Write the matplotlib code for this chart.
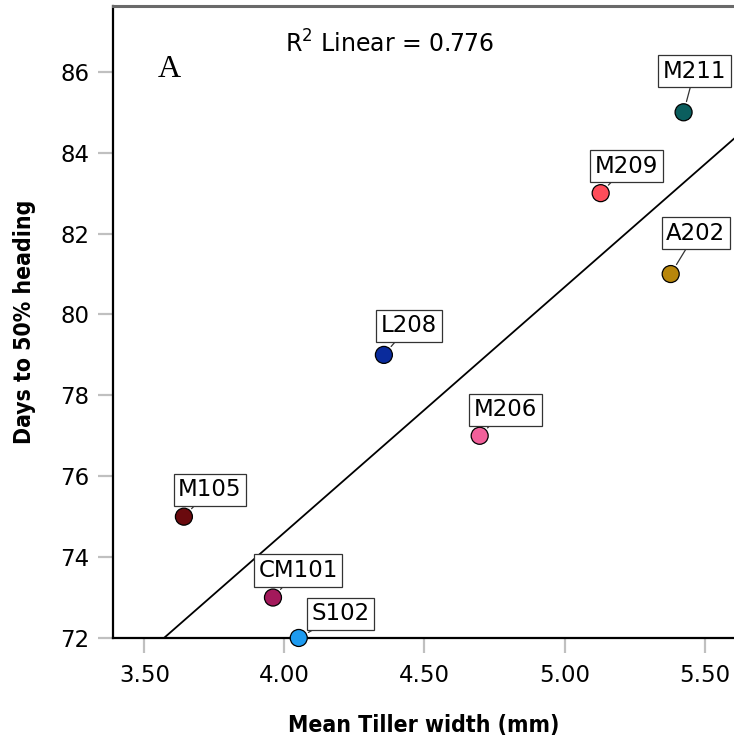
import numpy as np
import matplotlib
matplotlib.use("Agg")
import matplotlib.pyplot as plt

# Cultivar data: mean tiller width (mm) vs days to 50% heading
cultivars = ["M211", "M209", "A202", "L208", "M206", "M105", "CM101", "S102"]
tiller_width = [5.425, 5.129, 5.379, 4.355, 4.697, 3.641, 3.959, 4.051]
days_heading = [85, 83, 81, 79, 77, 75, 73, 72]
point_colors = ["#0b5e5e", "#ff4d5a", "#b8860b", "#0a2b9c",
                "#f2609a", "#6a0a0e", "#a3195b", "#1e9bf0"]
r_squared = 0.776

x_ticks = [3.50, 4.00, 4.50, 5.00, 5.50]
y_ticks = [72, 74, 76, 78, 80, 82, 84, 86]

# label box offsets (pixels) from each point
label_offsets = [(11, 41), (26, 27), (25, 41), (25, 29),
                 (26, 26), (26, 27), (25, 27), (42, 24)]

fig = plt.figure(figsize=(7.34, 7.42), dpi=100)
ax = fig.add_axes([0.154, 0.1402, 0.846, 0.8518])

ax.set_xlim(3.388, 5.605)
ax.set_ylim(72, 87.63)

# fitted linear trend
slope, intercept = np.polyfit(tiller_width, days_heading, 1)
xs = np.array(ax.get_xlim())
ax.plot(xs, slope * xs + intercept, color="black", lw=1.3, zorder=2)

ax.scatter(tiller_width, days_heading, s=150, c=point_colors,
           edgecolors="black", linewidths=0.9, zorder=4, clip_on=False)

for name, x, y, (dx, dy) in zip(cultivars, tiller_width, days_heading, label_offsets):
    ax.annotate(name, xy=(x, y), xytext=(dx, dy), textcoords="offset pixels",
                ha="center", va="center", fontsize=16.5, family="DejaVu Sans",
                bbox=dict(boxstyle="square,pad=0.2", fc="white", ec="#333333", lw=0.9),
                arrowprops=dict(arrowstyle="-", color="#333333", lw=0.9,
                                shrinkA=0, shrinkB=8),
                zorder=5, annotation_clip=False)

ax.text(0.446, 0.94, r"R$^2$ Linear = %.3f" % r_squared, transform=ax.transAxes,
        ha="center", va="center", fontsize=17, family="DejaVu Sans")
ax.text(0.090, 0.90, "A", transform=ax.transAxes, ha="center", va="center",
        fontsize=23, family="Liberation Serif")

ax.set_xticks(x_ticks)
ax.set_xticklabels([f"{v:.2f}" for v in x_ticks])
ax.set_yticks(y_ticks)
ax.tick_params(axis="both", direction="out", length=11, width=1.6,
               color="#c0c0c0", labelsize=16.5)
ax.tick_params(axis="x", pad=8)
ax.tick_params(axis="y", pad=6)

ax.spines["right"].set_visible(False)
ax.spines["top"].set_color("#6a6a6a")
ax.spines["top"].set_linewidth(2.2)
ax.spines["left"].set_linewidth(1.6)
ax.spines["bottom"].set_linewidth(1.6)

lab_font = dict(family="DejaVu Sans", fontstretch="condensed", weight="bold",
                fontsize=16.5, ha="center", va="center")
ax.set_xlabel("Mean Tiller width (mm)", **lab_font)
ax.set_ylabel("Days to 50% heading", **lab_font)
ax.xaxis.set_label_coords(0.5, -0.1377)
ax.yaxis.set_label_coords(-0.1433, 0.5)

fig.savefig("out.png", dpi=100)
